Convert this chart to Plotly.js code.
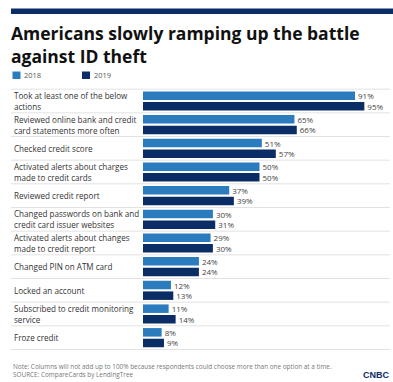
<!DOCTYPE html>
<html>
<head>
<meta charset="utf-8">
<script src="https://cdn.plot.ly/plotly-3.0.1.min.js"></script>
<style>html,body{margin:0;padding:0;background:#fff;}#chart{width:393px;height:382px;}</style>
</head>
<body>
<div id="chart"></div>
<script>
const categories = [
  "Took at least one of the below<br>actions",
  "Reviewed online bank and credit<br>card statements more often",
  "Checked credit score",
  "Activated alerts about charges<br>made to credit cards",
  "Reviewed credit report",
  "Changed passwords on bank and<br>credit card issuer websites",
  "Activated alerts about changes<br>made to credit report",
  "Changed PIN on ATM card",
  "Locked an account",
  "Subscribed to credit monitoring<br>service",
  "Froze credit"
];
const values2018 = [91, 65, 51, 50, 37, 30, 29, 24, 12, 11, 8];
const values2019 = [95, 66, 57, 50, 39, 31, 30, 24, 13, 14, 9];
const seriesNames = ["2018", "2019"];
const titleText = "Americans slowly ramping up the battle<br>against ID theft";
const noteText = "Note: Columns will not add up to 100% because respondents could choose more than one option at a time.<br>SOURCE: CompareCards by LendingTree";

const W = 393, H = 382;
const M = {l: 143, r: 17, t: 88, b: 32};
const PW = W - M.l - M.r, PH = H - M.t - M.b;
const px = x => (x - M.l) / PW;
const py = y => (H - M.b - y) / PH;

const c2018 = "#2b7bbf", c2019 = "#0b2d66";
const labelFont = {family: "Open Sans, sans-serif", size: 8.1, color: "#333"};
const valueFont = {family: "Open Sans, sans-serif", size: 8, color: "#444"};

const traces = [
  {type: "bar", orientation: "h", name: seriesNames[0], y: categories, x: values2018,
   marker: {color: c2018}, text: values2018.map(v => v + "%"), textposition: "outside", constraintext: "none",
   textfont: valueFont, cliponaxis: false, hoverinfo: "none"},
  {type: "bar", orientation: "h", name: seriesNames[1], y: categories, x: values2019,
   marker: {color: c2019}, text: values2019.map(v => v + "%"), textposition: "outside", constraintext: "none",
   textfont: valueFont, cliponaxis: false, hoverinfo: "none"}
];

const shapes = [];
shapes.push({type: "rect", xref: "paper", yref: "paper", x0: px(11), x1: px(393), y0: py(14), y1: py(8.5),
  fillcolor: c2019, line: {width: 0}});
for (let i = 0; i <= categories.length; i++) {
  shapes.push({type: "line", xref: "paper", yref: "y", x0: px(11), x1: px(390), y0: i - 0.5, y1: i - 0.5,
    line: {color: "#e2e2e2", width: 1}, layer: "below"});
}
shapes.push({type: "rect", xref: "paper", yref: "paper", x0: px(12.5), x1: px(20.5), y0: py(79), y1: py(71.5), fillcolor: c2018, line: {width: 0}});
shapes.push({type: "rect", xref: "paper", yref: "paper", x0: px(82), x1: px(90), y0: py(79), y1: py(71.5), fillcolor: c2019, line: {width: 0}});

const annotations = categories.map(c => ({
  xref: "paper", yref: "y", x: px(12), y: c, text: c, showarrow: false,
  xanchor: "left", yanchor: "middle", align: "left", font: labelFont
}));
annotations.push({xref: "paper", yref: "paper", x: px(9), y: py(19), text: "<b>" + titleText + "</b>", showarrow: false,
  xanchor: "left", yanchor: "top", align: "left", font: {family: "Open Sans, sans-serif", size: 17.5, color: "#111"}});
annotations.push({xref: "paper", yref: "paper", x: px(22), y: py(75.3), text: seriesNames[0], showarrow: false,
  xanchor: "left", yanchor: "middle", font: {family: "Open Sans, sans-serif", size: 7.5, color: "#555"}});
annotations.push({xref: "paper", yref: "paper", x: px(91.5), y: py(75.3), text: seriesNames[1], showarrow: false,
  xanchor: "left", yanchor: "middle", font: {family: "Open Sans, sans-serif", size: 7.5, color: "#555"}});
annotations.push({xref: "paper", yref: "paper", x: px(11), y: py(359.5), text: noteText, showarrow: false,
  xanchor: "left", yanchor: "top", align: "left", font: {family: "Open Sans, sans-serif", size: 6.4, color: "#777"}});
annotations.push({xref: "paper", yref: "paper", x: px(391), y: py(382), text: "<b>CNBC</b>", showarrow: false,
  xanchor: "right", yanchor: "bottom", font: {family: "Liberation Sans, sans-serif", size: 9, color: "#0b2d66"}});

const layout = {
  width: W, height: H, margin: M,
  paper_bgcolor: "#fff", plot_bgcolor: "#fff",
  showlegend: false,
  barmode: "group", bargap: 0.1, bargroupgap: 0.2,
  xaxis: {range: [0, 100], showgrid: false, zeroline: false, showticklabels: false, fixedrange: true},
  yaxis: {type: "category", autorange: "reversed", showgrid: false, showticklabels: false, zeroline: false, fixedrange: true},
  shapes: shapes, annotations: annotations
};

Plotly.newPlot("chart", traces, layout, {displayModeBar: false, staticPlot: true});
</script>
</body>
</html>
